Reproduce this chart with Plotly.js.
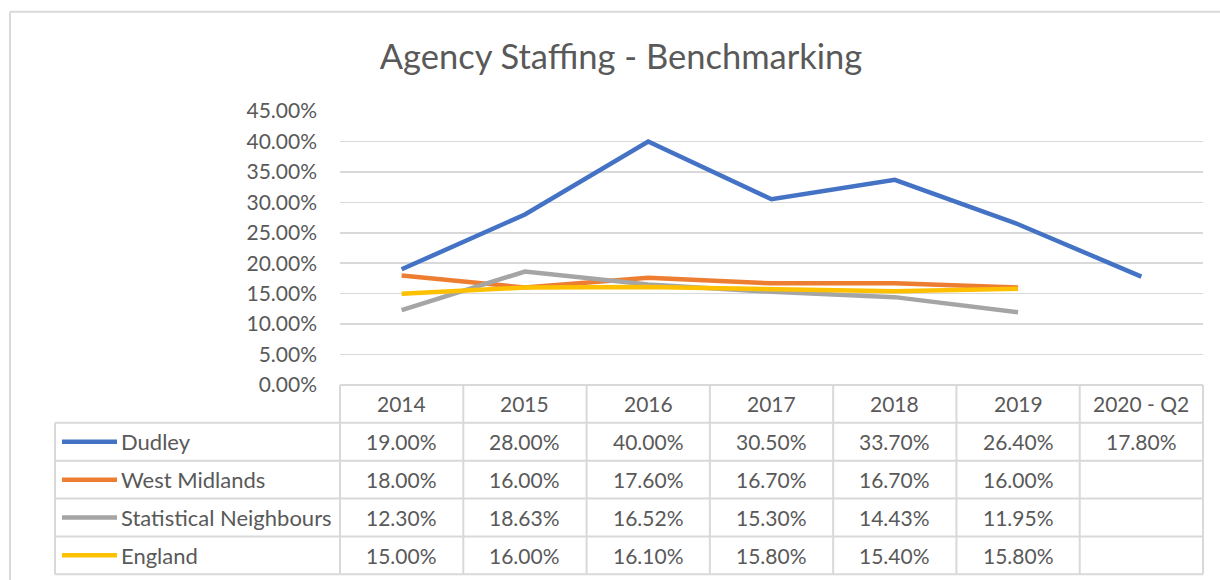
<!DOCTYPE html>
<html>
<head>
<meta charset="utf-8">
<script src="https://cdn.plot.ly/plotly-3.0.1.min.js"></script>
<style>html,body{margin:0;padding:0;background:#fff;}#chart{width:1220px;height:580px;}</style>
</head>
<body>
<div id="chart"></div>
<script>
// ---- Data ----
const categories = ["2014", "2015", "2016", "2017", "2018", "2019", "2020 - Q2"];
const seriesNames = ["Dudley", "West Midlands", "Statistical Neighbours", "England"];
const dudley = [0.19, 0.28, 0.40, 0.305, 0.337, 0.264, 0.178];
const westMidlands = [0.18, 0.16, 0.176, 0.167, 0.167, 0.16, null];
const statNeighbours = [0.123, 0.1863, 0.1652, 0.153, 0.1443, 0.1195, null];
const england = [0.15, 0.16, 0.161, 0.158, 0.154, 0.158, null];
const seriesColors = ["#4472C4", "#ED7D31", "#A5A5A5", "#FFC000"];

const allSeries = [dudley, westMidlands, statNeighbours, england];

// ---- Layout geometry (pixels) ----
const W = 1220, H = 580;
const plotL = 340, plotR = 1203, plotT = 111, plotB = 384.6;
const plotW = plotR - plotL, plotH = plotB - plotT;
const rowH = 37.8;
const legendColL = 55, keyX0 = 62, keyX1 = 117, nameX = 119;
const px = p => (p - plotL) / plotW;      // pixel x -> paper x
const py = p => (plotB - p) / plotH;      // pixel y -> paper y
const grid = "#D9D9D9", txt = "#595959", fontFam = "Lato, 'Open Sans', sans-serif";

const traces = allSeries.map((vals, i) => ({
  type: "scatter", mode: "lines", name: seriesNames[i],
  x: categories, y: vals, connectgaps: false,
  line: {color: seriesColors[i], width: 4.5},
  hoverinfo: "skip"
}));

const shapes = [];
const annotations = [];
const nCols = categories.length;
const nRows = seriesNames.length;

// outer chart border (left and top visible)
shapes.push({type: "line", xref: "paper", yref: "paper", x0: px(10), x1: px(1240), y0: py(12), y1: py(12), line: {color: grid, width: 2}});
shapes.push({type: "line", xref: "paper", yref: "paper", x0: px(10), x1: px(10), y0: py(12), y1: py(600), line: {color: grid, width: 2}});

// table: horizontal lines
const tableTop = plotB;
shapes.push({type: "line", xref: "paper", yref: "paper", x0: 0, x1: 1, y0: py(tableTop), y1: py(tableTop), line: {color: grid, width: 2}});
for (let r = 1; r <= nRows + 1; r++) {
  const yy = py(tableTop + r * rowH);
  shapes.push({type: "line", xref: "paper", yref: "paper", x0: px(legendColL), x1: 1, y0: yy, y1: yy, line: {color: grid, width: 2}});
}
// vertical lines
for (let c = 0; c <= nCols; c++) {
  shapes.push({type: "line", xref: "paper", yref: "paper", x0: c / nCols, x1: c / nCols, y0: py(tableTop), y1: py(tableTop + (nRows + 1) * rowH), line: {color: grid, width: 2}});
}
shapes.push({type: "line", xref: "paper", yref: "paper", x0: px(legendColL), x1: px(legendColL), y0: py(tableTop + rowH), y1: py(tableTop + (nRows + 1) * rowH), line: {color: grid, width: 2}});

// header labels (x given as category index on the category axis)
categories.forEach((cat, c) => {
  annotations.push({xref: "x", yref: "paper", x: c, y: py(tableTop + rowH / 2), text: cat, showarrow: false,
    xanchor: "center", yanchor: "middle", font: {family: fontFam, size: 21, color: txt}});
});

// rows
seriesNames.forEach((name, r) => {
  const yc = py(tableTop + (r + 1.5) * rowH);
  shapes.push({type: "line", xref: "paper", yref: "paper", x0: px(keyX0), x1: px(keyX1), y0: yc, y1: yc, line: {color: seriesColors[r], width: 4.5}});
  annotations.push({xref: "paper", yref: "paper", x: px(nameX), y: yc, text: name, showarrow: false,
    xanchor: "left", yanchor: "middle", font: {family: fontFam, size: 22, color: txt}});
  allSeries[r].forEach((v, c) => {
    if (v === null) return;
    annotations.push({xref: "x", yref: "paper", x: c, y: yc, text: (v * 100).toFixed(2) + "%", showarrow: false,
      xanchor: "center", yanchor: "middle", font: {family: fontFam, size: 21, color: txt}});
  });
});

const layout = {
  width: W, height: H,
  margin: {l: plotL, r: W - plotR, t: plotT, b: H - plotB},
  paper_bgcolor: "#fff", plot_bgcolor: "#fff",
  showlegend: false,
  hovermode: false,
  title: {text: "Agency Staffing - Benchmarking", xref: "container", yref: "container", x: 621 / W, y: 1 - 57 / H,
    xanchor: "center", yanchor: "middle", font: {family: fontFam, size: 34.5, color: txt}},
  xaxis: {type: "category", categoryarray: categories, range: [-0.5, nCols - 0.5], showticklabels: false,
    showgrid: false, zeroline: false, showline: false, ticks: "", fixedrange: true},
  yaxis: {range: [0, 0.45], dtick: 0.05, tick0: 0, tickformat: ".2%", showgrid: true, gridcolor: grid, gridwidth: 1.6,
    zeroline: false, showline: false, ticks: "", ticklabelstandoff: 22,
    tickfont: {family: fontFam, size: 21, color: txt}, fixedrange: true},
  shapes: shapes,
  annotations: annotations
};

Plotly.newPlot("chart", traces, layout, {staticPlot: true, displayModeBar: false});
</script>
</body>
</html>
